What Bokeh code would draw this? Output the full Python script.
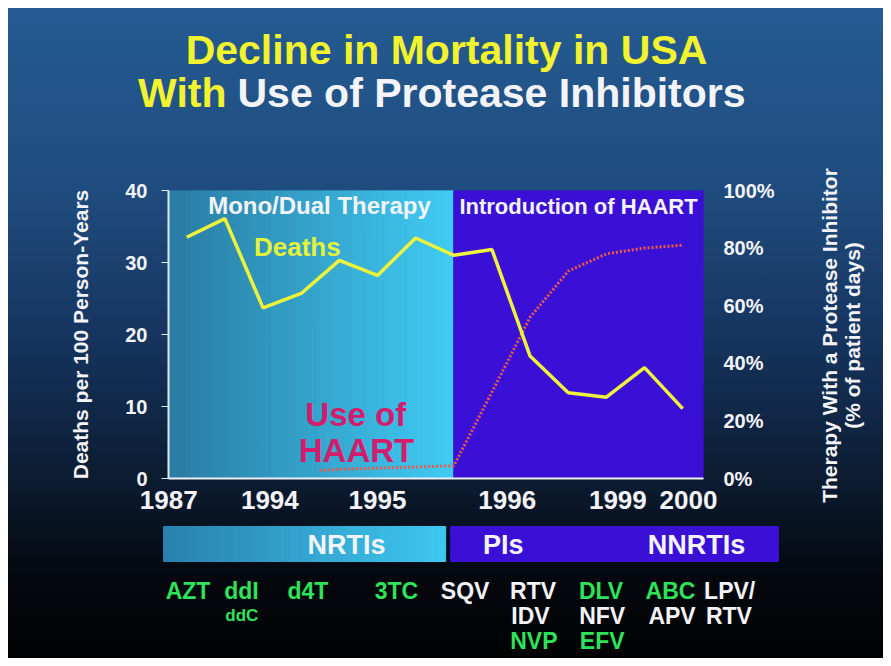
import numpy as np
from bokeh.plotting import figure
from bokeh.models import Range1d, LinearAxis, FixedTicker, PrintfTickFormatter
from bokeh.layouts import column, row
from bokeh.embed import file_html
from bokeh.resources import INLINE
from bokeh.core.properties import value

# ---------------- data ----------------
interval = list(range(14))                     # reporting intervals along the time axis
deaths = [33.5, 36.1, 23.7, 25.7, 30.3, 28.2, 33.4, 31.0, 31.8, 17.0, 11.9, 11.3, 15.4, 9.7]
haart_interval = [3.5, 4, 5, 6, 7, 8, 9, 10, 11, 12, 13]
haart_pct = [2.8, 3.2, 3.6, 4.0, 4.4, 30.0, 56.0, 72.0, 78.0, 80.0, 81.0]

year_tick_pos = [-0.47, 2.18, 5.0, 8.4, 11.3, 13.15]
year_tick_labels = ["1987", "1994", "1995", "1996", "1999", "2000"]
death_ticks = [0, 10, 20, 30, 40]
pct_ticks = [0, 20, 40, 60, 80, 100]

era_names = ["Mono/Dual Therapy", "Introduction of HAART"]
era_start = [-0.477, 7.0]
era_end = [7.0, 13.545]

class_names = ["NRTIs", "PIs", "NNRTIs"]
class_label_x = [4.19, 8.30, 13.36]
class_bar_start = [-0.60, 6.92]
class_bar_end = [6.79, 15.51]

drug_names = ["AZT", "ddI", "ddC", "d4T", "3TC", "SQV", "RTV", "IDV", "NVP",
              "DLV", "NFV", "EFV", "ABC", "APV", "LPV/", "RTV"]
drug_x = [0.04, 1.44, 1.45, 3.18, 5.50, 7.30, 9.08, 9.01, 9.10,
          10.86, 10.89, 10.89, 12.68, 12.72, 14.23, 14.21]
drug_row = [0, 0, 1, 0, 0, 0, 0, 1, 2, 0, 1, 2, 0, 1, 0, 1]
drug_class = ["NRTI", "NRTI", "NRTI", "NRTI", "NRTI", "PI", "PI", "PI", "NNRTI",
              "NNRTI", "PI", "NNRTI", "NRTI", "PI", "PI", "PI"]

right_title = ["Therapy With a Protease Inhibitor", "(% of patient days)"]

# ---------------- styling helpers ----------------
FONT = value("Liberation Sans")
YELLOW = "#f2f22e"
WHITE = "#f4f4f8"
GREEN = "#2ee35a"
PURPLE = "#3a10d6"
MAGENTA = "#d41c6c"


def hex_lerp(c0, c1, n):
    a = np.array([int(c0[i:i + 2], 16) for i in (1, 3, 5)], dtype=float)
    b = np.array([int(c1[i:i + 2], 16) for i in (1, 3, 5)], dtype=float)
    out = []
    for t in np.linspace(0, 1, n):
        c = (a + (b - a) * t).round().astype(int)
        out.append("#%02x%02x%02x" % tuple(c))
    return out


def common(fig):
    fig.background_fill_color = None
    fig.border_fill_color = None
    fig.outline_line_color = None
    if "frame_align" in fig.properties():
        fig.frame_align = False


def blank(width, height):
    f = figure(width=width, height=height, x_range=Range1d(0, width),
               y_range=Range1d(height, 0), min_border=0, x_axis_location=None,
               y_axis_location=None, toolbar_location=None, output_backend="svg")
    common(f)
    f.xgrid.visible = False
    f.ygrid.visible = False
    return f


# ---------------- title figure ----------------
t = blank(875, 130)
t.text(x=[438], y=[41], text=["Decline in Mortality in USA"], text_align="center",
       text_baseline="middle", text_font=FONT, text_font_style="bold",
       text_font_size="41px", text_color=YELLOW)
t.text(x=[218], y=[84], text=["With"], text_align="right", text_baseline="middle",
       text_font=FONT, text_font_style="bold", text_font_size="41px", text_color=YELLOW)
t.text(x=[229], y=[84], text=["Use of Protease Inhibitors"], text_align="left",
       text_baseline="middle", text_font=FONT, text_font_style="bold",
       text_font_size="41px", text_color=WHITE)

# ---------------- main chart ----------------
p = figure(width=785, height=386, x_range=Range1d(-0.477, 13.545), y_range=Range1d(0, 40),
           min_border_left=160, min_border_right=90, min_border_top=52, min_border_bottom=46,
           toolbar_location=None, output_backend="svg")
common(p)
p.xgrid.visible = False
p.ygrid.visible = False

# era bands (left one shaded as a gradient)
n = 70
edges = np.linspace(era_start[0], era_end[0], n + 1)
cols = hex_lerp("#2a7ca3", "#40cbf4", n)
p.quad(left=edges[:-1], right=edges[1:], bottom=0, top=40, fill_color=cols, line_color=cols)
p.quad(left=[era_start[1]], right=[era_end[1]], bottom=0, top=40, fill_color=PURPLE,
       line_color=PURPLE)

p.extra_y_ranges = {"pct": Range1d(0, 100)}

p.line(haart_interval, haart_pct, y_range_name="pct", line_color="#ee5a48",
       line_width=3, line_dash="2 2")
p.line(interval, deaths, line_color="#eef23a", line_width=3.5)

# era names and series labels
p.text(x=[3.48], y=[37.9], text=era_names[:1], text_align="center",
       text_baseline="middle", text_font=FONT, text_font_style="bold",
       text_font_size="24px", text_color=WHITE)
p.text(x=[10.27], y=[37.8], text=era_names[1:], text_align="center",
       text_baseline="middle", text_font=FONT, text_font_style="bold",
       text_font_size="22px", text_color=WHITE)
p.text(x=[2.9], y=[32.1], text=["Deaths"], text_align="center", text_baseline="middle",
       text_font=FONT, text_font_style="bold", text_font_size="26px", text_color="#e4f23a")
p.text(x=[4.43, 4.45], y=[8.86, 3.9], text=["Use of", "HAART"], text_align="center",
       text_baseline="middle", text_font=FONT, text_font_style="bold",
       text_font_size="33px", text_color=MAGENTA)

# left axis
ya = p.yaxis[0]
ya.ticker = FixedTicker(ticks=death_ticks)
ya.axis_label = "Deaths per 100 Person-Years"
ya.axis_label_text_font = "Liberation Sans"
ya.axis_label_text_font_style = "bold"
ya.axis_label_text_font_size = "21px"
ya.axis_label_text_color = WHITE
ya.axis_label_standoff = 30
ya.major_label_text_font = "Liberation Sans"
ya.major_label_text_font_style = "bold"
ya.major_label_text_font_size = "20px"
ya.major_label_text_color = WHITE
ya.major_label_standoff = 14
ya.axis_line_color = "#dfe8f2"
ya.axis_line_width = 2
ya.major_tick_line_color = "#dfe8f2"
ya.major_tick_in = 0
ya.major_tick_out = 7
ya.minor_tick_line_color = None

# bottom axis
xa = p.xaxis[0]
xa.ticker = FixedTicker(ticks=year_tick_pos)
xa.major_label_overrides = {pos: lab for pos, lab in zip(year_tick_pos, year_tick_labels)}
xa.major_label_text_font = "Liberation Sans"
xa.major_label_text_font_style = "bold"
xa.major_label_text_font_size = "26px"
xa.major_label_text_color = WHITE
xa.major_label_standoff = 6
xa.axis_line_color = "#eef0fa"
xa.axis_line_width = 2
xa.major_tick_line_color = None
xa.minor_tick_line_color = None

# right axis
ra = LinearAxis(y_range_name="pct", ticker=FixedTicker(ticks=pct_ticks),
                formatter=PrintfTickFormatter(format="%d%%"))
ra.major_label_text_font = "Liberation Sans"
ra.major_label_text_font_style = "bold"
ra.major_label_text_font_size = "20px"
ra.major_label_text_color = WHITE
ra.major_label_standoff = 14
ra.axis_line_color = None
ra.major_tick_line_color = None
ra.minor_tick_line_color = None
p.add_layout(ra, "right")

# right axis title (reads bottom to top)
r = blank(90, 386)
r.text(x=[36, 59], y=[197, 197], text=right_title, angle=np.pi / 2, text_align="center",
       text_baseline="middle", text_font=FONT, text_font_style="bold",
       text_font_size="21px", text_color=WHITE)

# ---------------- drug classes strip ----------------
b = figure(width=875, height=134, x_range=Range1d(-4.663, 18.26), y_range=Range1d(134, 0),
           min_border=0, x_axis_location=None, y_axis_location=None,
           toolbar_location=None, output_backend="svg")
common(b)
b.xgrid.visible = False
b.ygrid.visible = False

nb = 60
bedges = np.linspace(class_bar_start[0], class_bar_end[0], nb + 1)
bcols = hex_lerp("#2a82ad", "#3dc7f1", nb)
b.quad(left=bedges[:-1], right=bedges[1:], top=2, bottom=37, fill_color=bcols, line_color=bcols)
b.quad(left=[class_bar_start[1]], right=[class_bar_end[1]], top=2, bottom=37,
       fill_color=PURPLE, line_color=PURPLE)
b.text(x=class_label_x, y=[20] * 3, text=class_names, text_align="center",
       text_baseline="middle", text_font=FONT, text_font_style="bold",
       text_font_size="27px", text_color=WHITE)

drug_y = [66 + 25 * k for k in drug_row]
drug_col = [WHITE if c == "PI" else GREEN for c in drug_class]
drug_size = ["17px" if d == "ddC" else "23px" for d in drug_names]
b.text(x=drug_x, y=drug_y, text=drug_names, text_align="center", text_baseline="middle",
       text_font=FONT, text_font_style="bold", text_font_size=drug_size,
       text_color=drug_col)

layout = column(t, row(p, r, spacing=0), b, spacing=0,
                styles={"margin": "8px",
                        "background": "linear-gradient(180deg, #245b92 0%, #1f4c7e 28%, "
                                      "#163560 50%, #0b1a2e 74%, #04070d 88%, #010203 100%)"})

open("out.html", "w").write(file_html(layout, INLINE))
